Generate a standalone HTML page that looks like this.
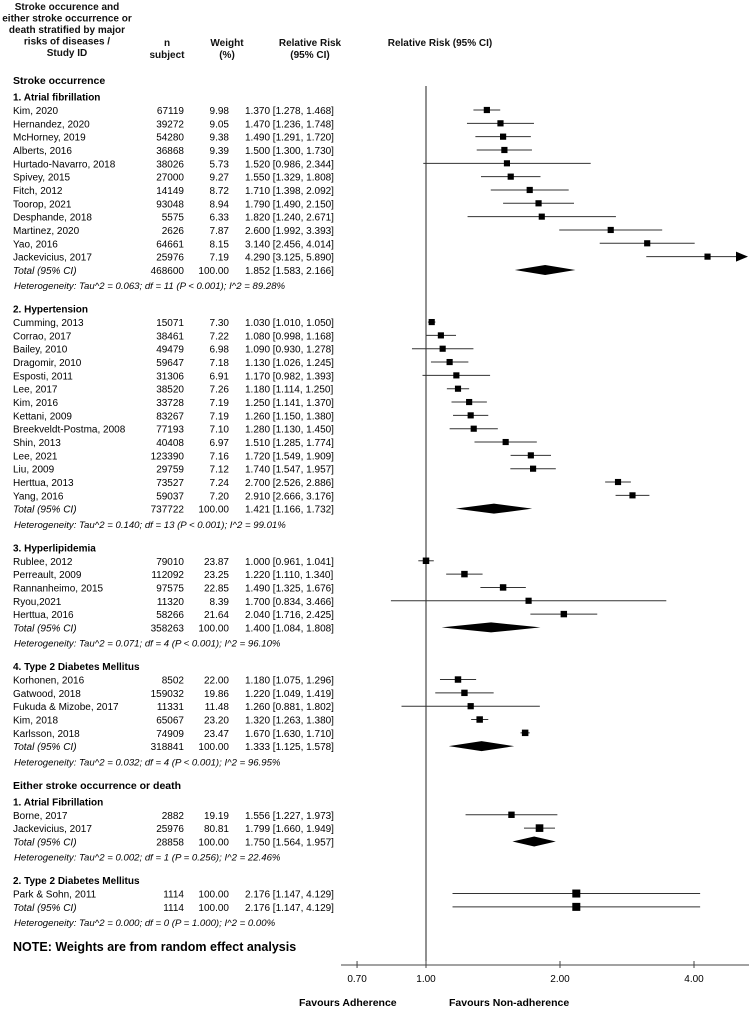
<!DOCTYPE html>
<html><head><meta charset="utf-8"><style>
body{margin:0;background:#fff}
svg{display:block;font-family:"Liberation Sans",Arial,sans-serif}
</style></head><body>
<svg id="c" width="749" height="1009">
<g font-weight="bold" font-size="10" text-anchor="middle" fill="#111">
<text x="67" y="10">Stroke occurence and</text>
<text x="67" y="21.5">either stroke occurrence or</text>
<text x="67" y="33">death stratified by major</text>
<text x="67" y="44.5">risks of diseases /</text>
<text x="67" y="56">Study ID</text>
<text x="167" y="46">n</text><text x="167" y="58">subject</text>
<text x="227" y="46">Weight</text><text x="227" y="58">(%)</text>
<text x="310" y="46">Relative Risk</text><text x="310" y="58">(95% CI)</text>
<text x="440" y="46">Relative Risk (95% CI)</text>
</g>
<g id="rows"></g>
<g id="plot"></g>
<text x="13" y="951" font-size="12.5" font-weight="bold">NOTE: Weights are from random effect analysis</text>
<text x="299" y="1006" font-size="10.5" font-weight="bold">Favours Adherence</text>
<text x="449" y="1006" font-size="10.5" font-weight="bold">Favours Non-adherence</text>
</svg>
<script>
const kinds=['H','G','S','S','S','S','S','S','S','S','S','S','S','S','T','E','G','S','S','S','S','S','S','S','S','S','S','S','S','S','S','T','E','G','S','S','S','S','S','T','E','G','S','S','S','S','S','T','E','H','G','S','S','T','E','G','S','T','E'];
const labels=['Stroke occurrence','1. Atrial  fibrillation','Kim, 2020','Hernandez, 2020','McHorney, 2019','Alberts, 2016','Hurtado-Navarro, 2018','Spivey, 2015','Fitch, 2012','Toorop, 2021','Desphande, 2018','Martinez, 2020','Yao, 2016','Jackevicius, 2017','Total  (95% CI)','Heterogeneity:  Tau^2 = 0.063; df = 11 (P < 0.001); I^2 = 89.28%',
'2. Hypertension','Cumming, 2013','Corrao, 2017','Bailey, 2010','Dragomir, 2010','Esposti, 2011','Lee, 2017','Kim, 2016','Kettani, 2009','Breekveldt-Postma, 2008','Shin, 2013','Lee, 2021','Liu, 2009','Herttua, 2013','Yang, 2016','Total  (95% CI)','Heterogeneity:  Tau^2 = 0.140; df = 13 (P < 0.001); I^2 = 99.01%',
'3. Hyperlipidemia','Rublee, 2012','Perreault, 2009','Rannanheimo, 2015','Ryou,2021','Herttua, 2016','Total  (95% CI)','Heterogeneity:  Tau^2 = 0.071; df = 4 (P < 0.001); I^2 = 96.10%',
'4. Type 2 Diabetes Mellitus','Korhonen, 2016','Gatwood, 2018','Fukuda & Mizobe, 2017','Kim, 2018','Karlsson, 2018','Total  (95% CI)','Heterogeneity:  Tau^2 = 0.032; df = 4 (P < 0.001); I^2 = 96.95%',
'Either stroke occurrence or death','1. Atrial Fibrillation','Borne, 2017','Jackevicius, 2017','Total  (95% CI)','Heterogeneity:  Tau^2 = 0.002; df = 1 (P = 0.256); I^2 = 22.46%',
'2. Type 2 Diabetes Mellitus','Park & Sohn, 2011','Total  (95% CI)','Heterogeneity:  Tau^2 = 0.000; df = 0 (P = 1.000); I^2 = 0.00%'];
const nSubj=[null,null,67119,39272,54280,36868,38026,27000,14149,93048,5575,2626,64661,25976,468600,null,null,15071,38461,49479,59647,31306,38520,33728,83267,77193,40408,123390,29759,73527,59037,737722,null,null,79010,112092,97575,11320,58266,358263,null,null,8502,159032,11331,65067,74909,318841,null,null,null,2882,25976,28858,null,null,1114,1114,null];
const weights=[null,null,9.98,9.05,9.38,9.39,5.73,9.27,8.72,8.94,6.33,7.87,8.15,7.19,100,null,null,7.30,7.22,6.98,7.18,6.91,7.26,7.19,7.19,7.10,6.97,7.16,7.12,7.24,7.20,100,null,null,23.87,23.25,22.85,8.39,21.64,100,null,null,22.00,19.86,11.48,23.20,23.47,100,null,null,null,19.19,80.81,100,null,null,100,100,null];
const rr=[null,null,1.370,1.470,1.490,1.500,1.520,1.550,1.710,1.790,1.820,2.600,3.140,4.290,1.852,null,null,1.030,1.080,1.090,1.130,1.170,1.180,1.250,1.260,1.280,1.510,1.720,1.740,2.700,2.910,1.421,null,null,1.000,1.220,1.490,1.700,2.040,1.400,null,null,1.180,1.220,1.260,1.320,1.670,1.333,null,null,null,1.556,1.799,1.750,null,null,2.176,2.176,null];
const lo=[null,null,1.278,1.236,1.291,1.300,0.986,1.329,1.398,1.490,1.240,1.992,2.456,3.125,1.583,null,null,1.010,0.998,0.930,1.026,0.982,1.114,1.141,1.150,1.130,1.285,1.549,1.547,2.526,2.666,1.166,null,null,0.961,1.110,1.325,0.834,1.716,1.084,null,null,1.075,1.049,0.881,1.263,1.630,1.125,null,null,null,1.227,1.660,1.564,null,null,1.147,1.147,null];
const hi=[null,null,1.468,1.748,1.720,1.730,2.344,1.808,2.092,2.150,2.671,3.393,4.014,5.890,2.166,null,null,1.050,1.168,1.278,1.245,1.393,1.250,1.370,1.380,1.450,1.774,1.909,1.957,2.886,3.176,1.732,null,null,1.041,1.340,1.676,3.466,2.425,1.808,null,null,1.296,1.419,1.802,1.380,1.710,1.578,null,null,null,1.973,1.949,1.957,null,null,4.129,4.129,null];
const ticks=[0.70,1.00,2.00,4.00];
const tickLabels=['0.70','1.00','2.00','4.00'];
const X0=426,K=134,XMAX=740,AXY=965;
function xs(v){return X0+K*Math.log2(v);}
const NS='http://www.w3.org/2000/svg';
function mk(parent,tag,attrs,txt){const e=document.createElementNS(NS,tag);for(const k in attrs)e.setAttribute(k,attrs[k]);if(txt!=null)e.textContent=txt;parent.appendChild(e);return e;}
const R=document.getElementById('rows'),P=document.getElementById('plot');
let y=80,ys=[];
for(let i=0;i<kinds.length;i++){
  const k=kinds[i];
  if(i>0){const pk=kinds[i-1];
    if(k==='E')y+=15.2;else if(pk==='E')y+=23.4;else if(pk==='H')y+=16.5;else if(pk==='G')y+=13.5;else y+=13.33;}
  ys.push(y);
}
mk(P,'line',{x1:X0,y1:86,x2:X0,y2:AXY,stroke:'#222','stroke-width':1});
for(let i=0;i<kinds.length;i++){
  const k=kinds[i],yy=ys[i];
  if(k==='H'){const t=mk(R,'text',{x:13,y:yy+4,'font-size':10.5,'font-weight':'bold'},labels[i]);
    continue;}
  if(k==='G'){const t=mk(R,'text',{x:13,y:yy+4,'font-size':10,'font-weight':'bold'},labels[i]);
    continue;}
  if(k==='E'){const t=mk(R,'text',{x:14,y:yy+4,'font-size':9.6,'font-style':'italic'},labels[i]);
    continue;}
  const g=mk(R,'g',{'font-size':10,'font-style':k==='T'?'italic':'normal'});
  
  
  mk(g,'text',{x:13,y:yy+4},labels[i]);
  mk(g,'text',{x:184,y:yy+4,'text-anchor':'end','font-style':'normal'},String(nSubj[i]));
  mk(g,'text',{x:229,y:yy+4,'text-anchor':'end','font-style':'normal'},weights[i].toFixed(2));
  mk(g,'text',{x:245,y:yy+4,'font-style':'normal'},rr[i].toFixed(3)+' ['+lo[i].toFixed(3)+', '+hi[i].toFixed(3)+']');
  const x1=xs(lo[i]),x2=Math.min(xs(hi[i]),XMAX),xc=xs(rr[i]);
  const isDiamond=k==='T'&&!(kinds[i-2]==='G');
  if(isDiamond){
    const d=mk(P,'polygon',{points:`${x1},${yy} ${xc},${yy-5} ${x2},${yy} ${xc},${yy+5}`,fill:'#000'});
    
    
  }else{
    const l=mk(P,'line',{x1:x1,y1:yy,x2:x2,y2:yy,stroke:'#333','stroke-width':1});
    
    
    if(xs(hi[i])>XMAX){const a=mk(P,'polygon',{points:`${XMAX-4},${yy-5} ${XMAX+8},${yy} ${XMAX-4},${yy+5}`,fill:'#000'});
      
      }
    const s=6+weights[i]/50;
    const r=mk(P,'rect',{x:xc-s/2,y:yy-s/2,width:s,height:s,fill:'#000'});
    
    
  }
}
const ax=mk(P,'line',{x1:341,y1:AXY,x2:749,y2:AXY,stroke:'#444','stroke-width':1});


for(let j=0;j<ticks.length;j++){
  const tx=xs(ticks[j]);
  const t=mk(P,'line',{x1:tx,y1:AXY-4,x2:tx,y2:AXY+3,stroke:'#444'});
  
  
  const l=mk(P,'text',{x:tx,y:AXY+17,'font-size':10,'text-anchor':'middle'},tickLabels[j]);
  
  
}
</script>
</body></html>
